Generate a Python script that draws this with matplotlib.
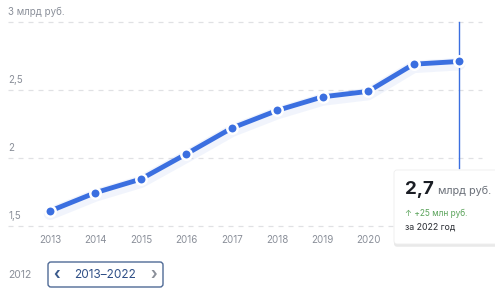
import matplotlib.pyplot as plt
from matplotlib.patches import FancyBboxPatch
import matplotlib.patheffects as pe

plt.rcParams['font.family'] = ['Inter', 'DejaVu Sans']

years = [2013, 2014, 2015, 2016, 2017, 2018, 2019, 2020, 2021, 2022]
values = [1.61, 1.745, 1.845, 2.03, 2.22, 2.35, 2.45, 2.49, 2.69, 2.71]
grid_levels = [1.5, 2.0, 2.5, 3.0]
grid_labels = ["1,5", "2", "2,5", "3 млрд руб."]

blue = "#3b6fe0"
grey_txt = "#8a8f99"

fig = plt.figure(figsize=(4.95, 2.94), dpi=100)
ax = fig.add_axes([0, 0, 1, 1])
ax.set_xlim(2011.9, 2022.79)
ax.set_ylim(1.0, 3.162)
ax.axis("off")

# dashed grid + labels
for lvl, lab in zip(grid_levels, grid_labels):
    ax.plot([2012.08, 2022.5], [lvl, lvl], color="#e0e1e4", lw=0.9,
            dashes=(4, 4), zorder=1)
    ax.text(2012.08, lvl + 0.035, lab, fontsize=7, color=grey_txt,
            ha="left", va="bottom")

# year labels
for yr in years[:-2]:
    ax.text(yr, 1.397, str(yr), fontsize=7, color=grey_txt,
            ha="center", va="center")

# vertical marker line for selected year
ax.plot([years[-1], years[-1]], [1.926, 3.0], color=blue, lw=1, zorder=2)

# soft glow under the line
ax.plot(years, [v - 0.02 for v in values], color=blue, lw=9, alpha=0.07,
        solid_capstyle="round", zorder=2)
ax.plot(years, values, color=blue, lw=3.5, marker="o", ms=7.5,
        mfc=blue, mec="white", mew=1.8, zorder=3)

# tooltip card
card = FancyBboxPatch((394, 50), 120, 74, boxstyle="round,pad=0,rounding_size=3",
                      transform=None, fc="white", ec="#eeeeee", lw=0.6,
                      zorder=5,
                      path_effects=[pe.SimplePatchShadow(offset=(0, -2),
                                                         shadow_rgbFace="#888888",
                                                         alpha=0.18),
                                    pe.Normal()])
fig.patches.append(card)
fig.text(405 / 495, 1 - 194 / 294, "2,7", fontsize=13.5, fontweight="bold",
         color="#1a1d24", ha="left", va="baseline", zorder=6)
fig.text(438 / 495, 1 - 194 / 294, "млрд руб.", fontsize=7.8, color="#6b7079",
         ha="left", va="baseline", zorder=6)
fig.text(405 / 495, 1 - 213 / 294, "↑ +25 млн руб.", fontsize=6,
         color="#5aa35a", ha="left", va="center", zorder=6)
fig.text(405 / 495, 1 - 227 / 294, "за 2022 год", fontsize=6.3,
         color="#2a2d33", ha="left", va="center", zorder=6)

# period switcher
fig.text(8 / 495, 1 - 275 / 294, "2012", fontsize=7.5, color=grey_txt,
         ha="left", va="center")
sw = FancyBboxPatch((48, 7), 115, 25, boxstyle="round,pad=0,rounding_size=3",
                    transform=None, fc="white", ec="#4f6a96", lw=1)
fig.patches.append(sw)
fig.text(57 / 495, 1 - 275 / 294, "‹", fontsize=11, color="#3a5a8c",
         ha="center", va="center", fontweight="bold")
fig.text(105 / 495, 1 - 275 / 294, "2013–2022", fontsize=8.5, color="#2f4f86",
         ha="center", va="center")
fig.text(154 / 495, 1 - 275 / 294, "›", fontsize=11, color="#8a8f99",
         ha="center", va="center", fontweight="bold")

fig.savefig("out.png", dpi=100)
